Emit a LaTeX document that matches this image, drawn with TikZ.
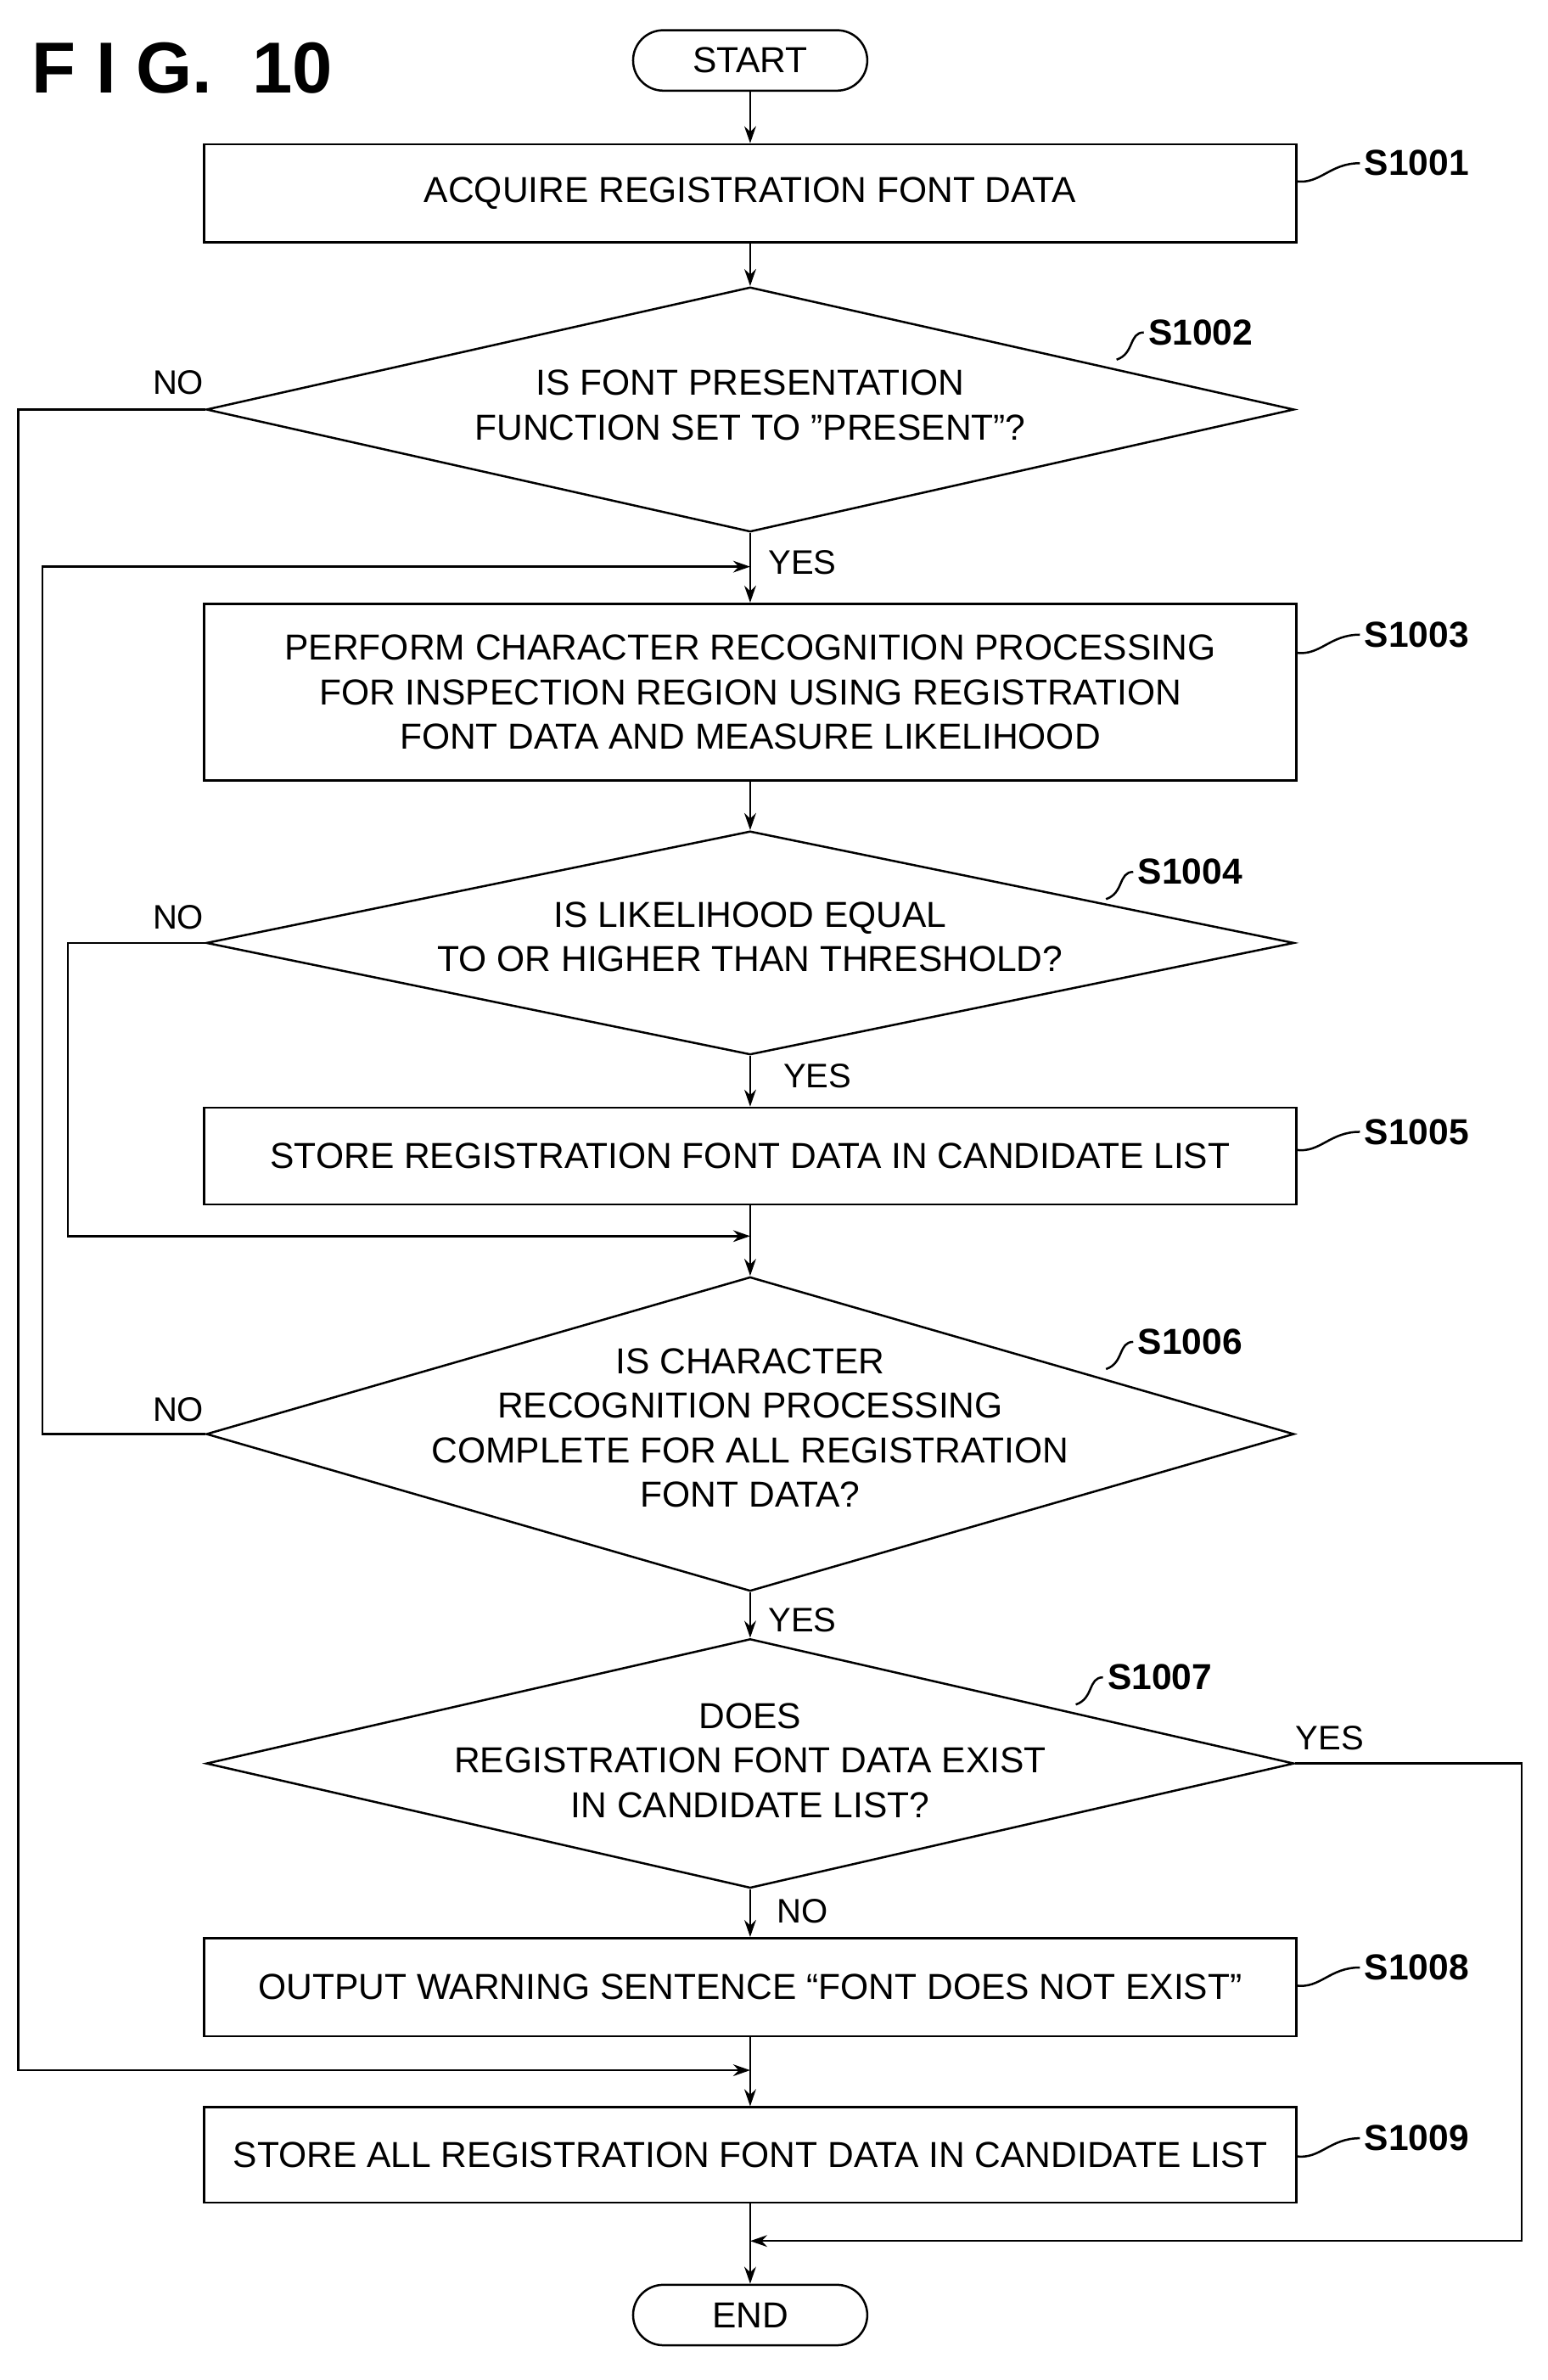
\documentclass[tikz,border=0pt]{standalone}
\usepackage{fontspec}
\setmainfont{Liberation Sans}
\usetikzlibrary{shapes.geometric,arrows.meta}
\begin{document}
\begin{tikzpicture}[x=0.05cm,y=-0.05cm,
  every path/.style={line width=2pt},
  tf/.style={font=\fontsize{34}{42}\selectfont, align=center},
  box/.style={draw, minimum width=36.15cm, inner sep=0pt, tf},
  dia/.style={draw, diamond, minimum width=36cm, inner sep=0pt},
  term/.style={draw, rounded corners=1cm, minimum width=7.75cm, minimum height=2cm, inner sep=0pt, tf},
  lab/.style={font=\fontsize{34}{40}\selectfont\bfseries, anchor=west},
  yn/.style={font=\fontsize{32}{38}\selectfont},
  arr/.style={-{Stealth[length=16pt,width=11pt]}},
  lead/.style={line width=2pt}]
\useasboundingbox (0,0) rectangle (1024,1575);
\node[font=\fontsize{68}{70}\selectfont\bfseries, anchor=west] (title) at (18,45) {F I G.\ \ 10};
\node[term] (start) at (496.5,40) {START};
\node[box, minimum height=3.25cm] (b1) at (496.5,128) {ACQUIRE REGISTRATION FONT DATA};
\node[dia, minimum height=8.1cm] (d2) at (496.5,271) {};
\node[tf] (t2) at (496.5,268) {IS FONT PRESENTATION\\FUNCTION SET TO "PRESENT"?};
\node[box, minimum height=5.85cm] (b3) at (496.5,458) {PERFORM CHARACTER RECOGNITION PROCESSING\\FOR INSPECTION REGION USING REGISTRATION\\FONT DATA AND MEASURE LIKELIHOOD};
\node[dia, minimum height=7.4cm] (d4) at (496.5,624) {};
\node[tf] (t4) at (496.5,620) {IS LIKELIHOOD EQUAL\\TO OR HIGHER THAN THRESHOLD?};
\node[box, minimum height=3.2cm] (b5) at (496.5,765) {STORE REGISTRATION FONT DATA IN CANDIDATE LIST};
\node[dia, minimum height=10.4cm] (d6) at (496.5,949) {};
\node[tf] (t6) at (496.5,945) {IS CHARACTER\\RECOGNITION PROCESSING\\COMPLETE FOR ALL REGISTRATION\\FONT DATA?};
\node[dia, minimum height=8.25cm] (d7) at (496.5,1167) {};
\node[tf] (t7) at (496.5,1165) {DOES\\REGISTRATION FONT DATA EXIST\\IN CANDIDATE LIST?};
\node[box, minimum height=3.25cm] (b8) at (496.5,1315) {OUTPUT WARNING SENTENCE “FONT DOES NOT EXIST”};
\node[box, minimum height=3.15cm] (b9) at (496.5,1426) {STORE ALL REGISTRATION FONT DATA IN CANDIDATE LIST};
\node[term] (end) at (496.5,1532) {END};
\coordinate (j1) at (496.5,375);
\coordinate (j2) at (496.5,818);
\coordinate (j3) at (496.5,1370);
\coordinate (j4) at (496.5,1483);
\draw[arr] (start) -- (b1);
\draw[arr] (b1) -- (d2);
\draw[arr] (d2.south) -- (b3.north);
\draw[arr] (b3) -- (d4);
\draw[arr] (d4.south) -- (b5.north);
\draw[arr] (b5.south) -- (d6.north);
\draw[arr] (d6.south) -- (d7.north);
\draw[arr] (d7.south) -- (b8.north);
\draw[arr] (b8.south) -- (b9.north);
\draw[arr] (b9.south) -- (end.north);
\draw[arr] (d2.west) -- (12,271) -- (12,1370) -- (j3);
\draw[arr] (d6.west) -- (28,949) -- (28,375) -- (j1);
\draw[arr] (d4.west) -- (45,624) -- (45,818) -- (j2);
\draw[arr] (d7.east) -- (1007,1167) -- (1007,1483) -- (j4);
\node[yn] (n2) at (118,253) {NO};
\node[yn] (y2) at (531,372) {YES};
\node[yn] (n4) at (118,607) {NO};
\node[yn] (y4) at (541,712) {YES};
\node[yn] (n6) at (118,933) {NO};
\node[yn] (y6) at (531,1072) {YES};
\node[yn] (y7) at (880,1150) {YES};
\node[yn] (n7) at (531,1265) {NO};
\node[lab] (s1) at (900,108) {S1001};
\node[lab] (s3) at (900,420) {S1003};
\node[lab] (s5) at (900,749) {S1005};
\node[lab] (s8) at (900,1302) {S1008};
\node[lab] (s9) at (900,1415) {S1009};
\node[lab] (s2) at (757,220) {S1002};
\node[lab] (s4) at (750,577) {S1004};
\node[lab] (s6) at (750,888) {S1006};
\node[lab] (s7) at (730,1110) {S1007};
\foreach \n/\y in {s1/108,s3/420,s5/749,s8/1302,s9/1415}
  \draw[lead] (858,\y+12) .. controls (874,\y+14) and (880,\y) .. (\n.west);
\foreach \n/\x/\y in {s2/757/220,s4/750/577,s6/750/888,s7/730/1110}
  \draw[lead] (\x-18,\y+18) .. controls (\x-6,\y+14) and (\x-10,\y) .. (\n.west);
\end{tikzpicture}
\end{document}
